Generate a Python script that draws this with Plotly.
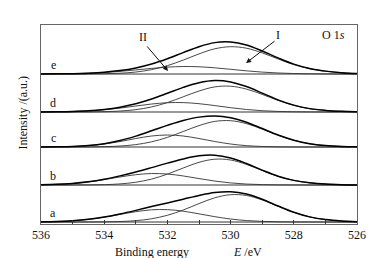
import plotly.graph_objects as go

# Binding energy grid (eV)
energy = [536, 535.5, 535, 534.5, 534, 533.5, 533, 532.5, 532, 531.5, 531,
          530.5, 530, 529.5, 529, 528.5, 528, 527.5, 527, 526.5, 526]

samples = ["a", "b", "c", "d", "e"]
offsets = [2, 39, 77, 112, 150]

# Component I (lattice oxygen, ~530 eV)
peak1_a = [0, 0, 0.01, 0.04, 0.14, 0.47, 1.33, 3.23, 6.71, 11.98, 18.4, 24.2, 27.3, 26.5, 22.1, 15.8, 9.68, 5.1, 2.4, 1.0, 0.35]
peak1_b = [0, 0.01, 0.03, 0.11, 0.37, 1.09, 2.75, 5.92, 10.9, 17.0, 22.7, 25.8, 25.0, 20.6, 14.5, 8.7, 4.6, 2.2, 0.9, 0.3, 0.06]
peak1_c = [0, 0.01, 0.03, 0.1, 0.33, 0.96, 2.4, 5.17, 9.63, 15.5, 21.4, 25.6, 26.3, 23.4, 17.9, 11.8, 6.75, 3.32, 1.5, 0.6, 0.16]
peak1_d = [0, 0.01, 0.02, 0.1, 0.33, 0.94, 2.35, 5.07, 9.44, 15.2, 21.0, 25.1, 25.8, 22.9, 17.6, 11.6, 6.63, 3.3, 1.6, 0.7, 0.2]
peak1_e = [0, 0, 0.02, 0.08, 0.27, 0.78, 1.98, 4.37, 8.38, 13.9, 20.1, 25.2, 27.3, 25.8, 21.1, 15.1, 9.39, 5.3, 2.8, 1.3, 0.45]

# Component II (adsorbed oxygen, ~531.5-532.5 eV)
peak2_a = [0.17, 0.5, 1.23, 2.61, 4.79, 7.58, 10.3, 12.2, 12.35, 10.8, 8.16, 5.32, 2.99, 1.45, 0.6, 0.22, 0.07, 0.02, 0, 0, 0]
peak2_b = [0.25, 0.67, 1.56, 3.12, 5.39, 8.04, 10.3, 11.47, 10.97, 9.05, 6.44, 3.95, 2.09, 0.95, 0.38, 0.13, 0.04, 0.01, 0, 0, 0]
peak2_c = [0.05, 0.17, 0.53, 1.37, 2.99, 5.5, 8.48, 11.0, 12.0, 11.0, 8.48, 5.5, 2.99, 1.37, 0.53, 0.17, 0.05, 0, 0, 0, 0]
peak2_d = [0.06, 0.18, 0.48, 1.1, 2.23, 3.91, 5.97, 7.97, 9.27, 9.4, 8.31, 6.4, 4.3, 2.52, 1.29, 0.57, 0.22, 0.08, 0.02, 0, 0]
peak2_e = [0.05, 0.14, 0.34, 0.76, 1.5, 2.62, 4.08, 5.62, 6.88, 7.48, 7.22, 6.18, 4.7, 3.17, 1.9, 1.01, 0.48, 0.2, 0.07, 0.02, 0]

peak1 = [peak1_a, peak1_b, peak1_c, peak1_d, peak1_e]
peak2 = [peak2_a, peak2_b, peak2_c, peak2_d, peak2_e]

x_ticks = [536, 534, 532, 530, 528, 526]

serif = "Liberation Serif, Times New Roman, serif"

fig = go.Figure()
for name, off, p1, p2 in zip(samples, offsets, peak1, peak2):
    fig.add_trace(go.Scatter(x=[energy[0], energy[-1]], y=[off, off], mode="lines",
                             line=dict(color="#333333", width=1), hoverinfo="skip"))
    fig.add_trace(go.Scatter(x=energy, y=[v + off for v in p2], mode="lines",
                             line=dict(color="#333333", width=0.9, shape="spline"), hoverinfo="skip"))
    fig.add_trace(go.Scatter(x=energy, y=[v + off for v in p1], mode="lines",
                             line=dict(color="#333333", width=0.9, shape="spline"), hoverinfo="skip"))
    fig.add_trace(go.Scatter(x=energy, y=[a + b + off for a, b in zip(p1, p2)], mode="lines",
                             line=dict(color="#000000", width=1.5, shape="spline"), hoverinfo="skip"))

annotations = []
for name, off in zip(samples, offsets):
    annotations.append(dict(x=535.62, y=off + 9, xref="x", yref="y", text=name,
                            showarrow=False, font=dict(family=serif, size=12, color="#111")))

annotations += [
    dict(x=532.77, y=187, xref="x", yref="y", text="II", showarrow=False,
         font=dict(family=serif, size=12, color="#111")),
    dict(x=528.5, y=189, xref="x", yref="y", text="I", showarrow=False,
         font=dict(family=serif, size=12, color="#111")),
    dict(x=526.75, y=189, xref="x", yref="y", text="O 1<i>s</i>", showarrow=False,
         font=dict(family=serif, size=12, color="#111")),
    dict(x=531.98, y=153, ax=532.68, ay=179, xref="x", yref="y", axref="x", ayref="y",
         text="", showarrow=True, arrowhead=2, arrowsize=1, arrowwidth=1, arrowcolor="#111"),
    dict(x=529.51, y=161, ax=528.56, ay=184, xref="x", yref="y", axref="x", ayref="y",
         text="", showarrow=True, arrowhead=2, arrowsize=1, arrowwidth=1, arrowcolor="#111"),
    dict(x=0.35, y=-0.14, xref="paper", yref="paper", text="Binding energy", showarrow=False,
         xanchor="center", yanchor="middle", font=dict(family=serif, size=12, color="#111")),
    dict(x=0.655, y=-0.14, xref="paper", yref="paper", text="<i>E</i> /eV", showarrow=False,
         xanchor="center", yanchor="middle", font=dict(family=serif, size=12, color="#111")),
    dict(x=-0.057, y=0.56, xref="paper", yref="paper", text="Intensity /(a.u.)", showarrow=False,
         textangle=-90, xanchor="center", yanchor="middle",
         font=dict(family=serif, size=12, color="#111")),
]

fig.update_layout(
    width=377, height=258,
    margin=dict(l=33, r=28, t=17, b=42, autoexpand=False),
    paper_bgcolor="white", plot_bgcolor="white",
    showlegend=False,
    annotations=annotations,
    xaxis=dict(range=[536, 526], autorange=False, tickvals=x_ticks, automargin=False,
               ticktext=[str(t) for t in x_ticks], ticks="inside", ticklen=4,
               tickcolor="#333", minor=dict(dtick=1, tick0=536, ticks="inside", ticklen=4, tickcolor="#333"),
               showline=True, linecolor="#666", linewidth=1, mirror=True,
               showgrid=False, zeroline=False,
               tickfont=dict(family=serif, size=12, color="#111")),
    yaxis=dict(range=[0, 199], autorange=False, showticklabels=False, ticks="", automargin=False,
               showline=True, linecolor="#666", linewidth=1, mirror=True,
               showgrid=False, zeroline=False),
)

fig.write_html("out.html")
